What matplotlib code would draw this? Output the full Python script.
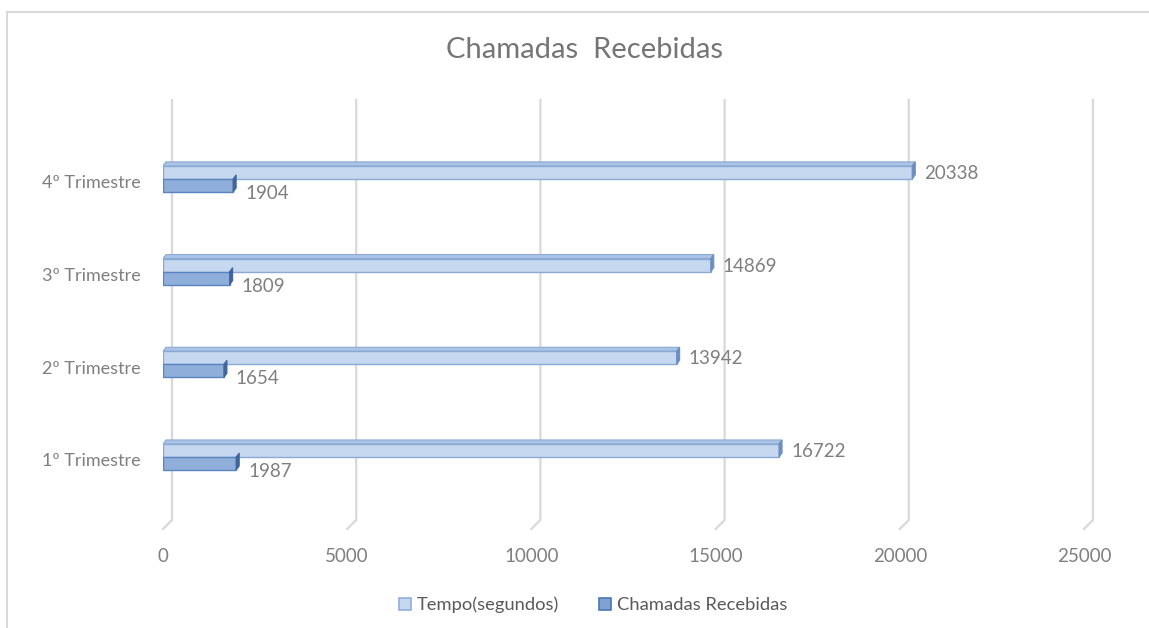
import numpy as np
import matplotlib
matplotlib.use('Agg')
import matplotlib.pyplot as plt
from matplotlib.patches import Rectangle, Polygon, Patch
from matplotlib.lines import Line2D

# data
categories = ["1º Trimestre", "2º Trimestre", "3º Trimestre", "4º Trimestre"]
tempo = [16722, 13942, 14869, 20338]
chamadas = [1987, 1654, 1809, 1904]
series_names = ["Tempo(segundos)", "Chamadas Recebidas"]
x_ticks = [0, 5000, 10000, 15000, 20000, 25000]

plt.rcParams['font.family'] = ['Lato', 'DejaVu Sans']
GRAY = '#7f7f7f'

W, H = 1149, 628
fig = plt.figure(figsize=(W / 100, H / 100), dpi=100)

# axes placed in pixels: x 163..1084, y 100..529
ax_l, ax_r, ax_t, ax_b = 163, 1084, 100, 529
ax = fig.add_axes([ax_l / W, 1 - ax_b / H, (ax_r - ax_l) / W, (ax_b - ax_t) / H])
ylo, yhi = -0.777, 3.851
ax.set_xlim(0, 25000)
ax.set_ylim(ylo, yhi)

px_x = 25000 / (ax_r - ax_l)          # data units per pixel
px_y = (yhi - ylo) / (ax_b - ax_t)

for s in ax.spines.values():
    s.set_visible(False)

# back-wall gridlines with the little 3D floor kink
for v in x_ticks:
    xb = v + 9 * px_x
    ax.plot([xb, xb, v], [yhi, ylo + 9 * px_y, ylo], color='#d9d9d9', lw=1.6,
            zorder=0, solid_joinstyle='miter', clip_on=False)

bar_h = 13 * px_y
dx, dy = 3 * px_x, 4 * px_y
cap_w = 3 * px_x


def bar3d(val, y0, face, edge, top, cap, show_top=True):
    # front face
    ax.add_patch(Rectangle((0, y0), val, bar_h, facecolor=face, edgecolor=edge,
                           lw=1.0, zorder=3))
    if show_top:
        ax.add_patch(Polygon([(0, y0 + bar_h), (val, y0 + bar_h),
                              (val + dx, y0 + bar_h + dy), (dx, y0 + bar_h + dy)],
                             closed=True, facecolor=top, edgecolor=edge, lw=0.8, zorder=2))
    ax.add_patch(Polygon([(val, y0), (val + dx, y0 + dy),
                          (val + dx, y0 + bar_h + dy), (val, y0 + bar_h)],
                         closed=True, facecolor=cap, edgecolor=cap, lw=0.8, zorder=4))


for i in range(len(categories)):
    # Tempo above the category center, Chamadas below
    bar3d(tempo[i], i, '#c6d8f0', '#8aaad6', '#abc3e5', '#6d8fc0')
    bar3d(chamadas[i], i - bar_h, '#8fafda', '#5a84bf', '#7798c8', '#3f659c',
          show_top=False)
    ax.text(tempo[i] + 12 * px_x, i + bar_h / 2 - 1 * px_y, str(tempo[i]),
            ha='left', va='center', fontsize=13.5, color=GRAY)
    ax.text(chamadas[i] + 12 * px_x, i - bar_h / 2 - 8 * px_y, str(chamadas[i]),
            ha='left', va='center', fontsize=13.5, color=GRAY)

ax.set_xticks(x_ticks)
ax.set_xticklabels([str(v) for v in x_ticks])
ax.tick_params(axis='x', length=0, pad=14, labelsize=13.5, labelcolor=GRAY)
ax.set_yticks(np.arange(len(categories)) - 3 * px_y)
ax.set_yticklabels(categories)
ax.tick_params(axis='y', length=0, pad=16, labelsize=13, labelcolor=GRAY)

fig.text(585 / W, 1 - 50 / H, "Chamadas  Recebidas", ha='center', va='center',
         fontsize=21, color='#757575')

handles = [Patch(facecolor='#c6d8f0', edgecolor='#8eb0dc', lw=1.2),
           Patch(facecolor='#7ea2d2', edgecolor='#4a78b5', lw=1.2)]
fig.legend(handles, series_names, loc='center', bbox_to_anchor=(593 / W, 1 - 605 / H),
           ncol=2, frameon=False, fontsize=13.2, labelcolor='#595959',
           handlelength=0.65, handleheight=0.65, handletextpad=0.3, columnspacing=2.2)

# chart area border (top and left)
fig.add_artist(Line2D([7 / W, 1], [1 - 12 / H, 1 - 12 / H], color='#d9d9d9', lw=1.5))
fig.add_artist(Line2D([7 / W, 7 / W], [0, 1 - 12 / H], color='#d9d9d9', lw=1.5))

fig.savefig('out.png', dpi=100, facecolor='white')
